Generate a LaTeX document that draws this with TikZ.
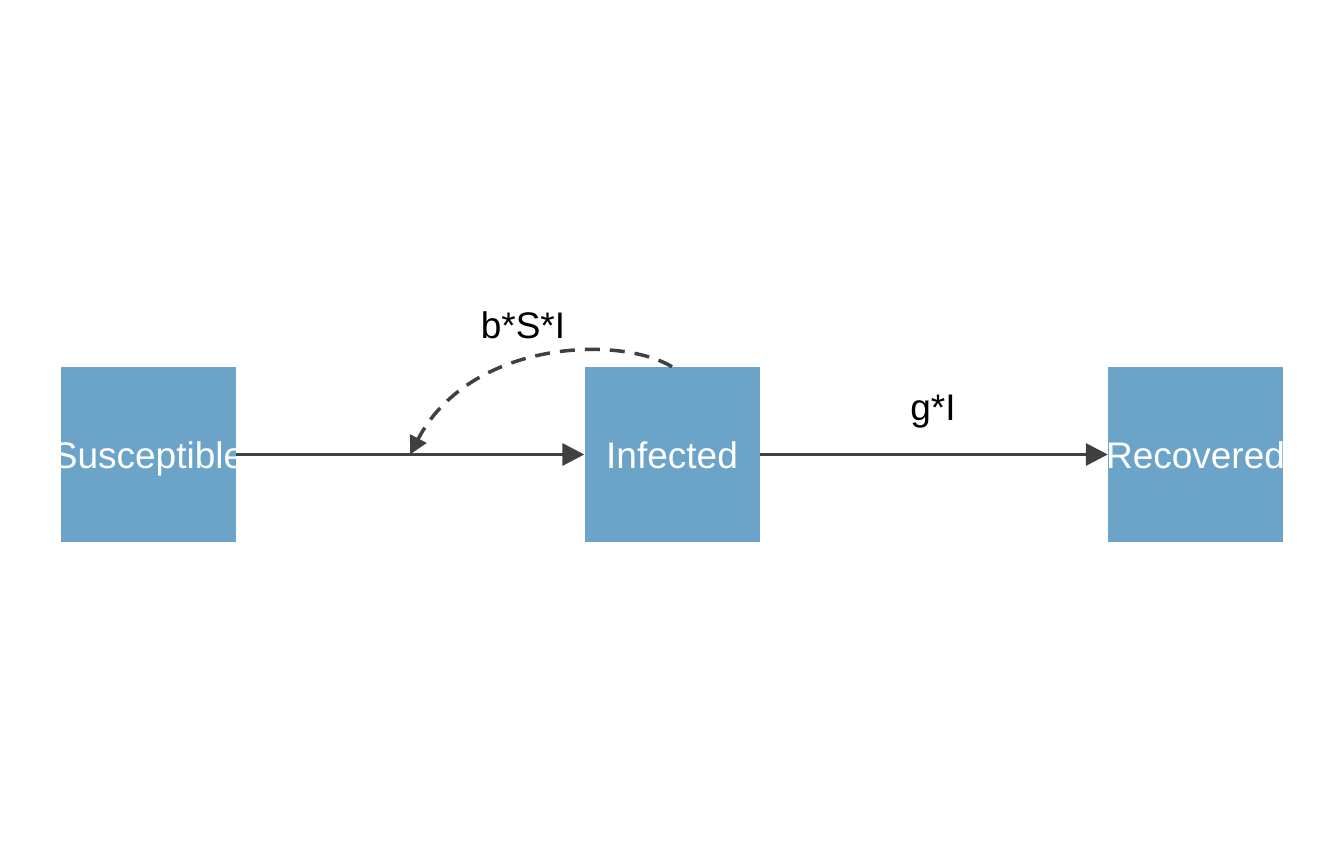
\documentclass[tikz,border=0pt]{standalone}
\usepackage{fontspec}
\setmainfont{Liberation Sans}
\usetikzlibrary{arrows.meta}
\definecolor{boxblue}{HTML}{6BA4C8}
\definecolor{edgegray}{HTML}{404040}
\newcommand{\fixw}[1]{\makebox[175pt][c]{#1}}
\begin{document}
\begin{tikzpicture}[x=1pt,y=-1pt,
  comp/.style={fill=boxblue,draw=none,minimum width=175pt,minimum height=175pt,inner sep=0pt,
    text=white,font=\fontsize{37}{40}\selectfont,text height=27pt,text depth=0pt},
  flow/.style={draw=edgegray,line width=3.5pt,-{Triangle[length=22pt,width=22pt]}},
  interact/.style={draw=edgegray,line width=3.5pt,dash pattern=on 15pt off 10pt,-{Triangle[length=18pt,width=18pt]}},
  lbl/.style={text=black,font=\fontsize{37}{40}\selectfont,inner sep=0pt}]
\useasboundingbox (0,0) rectangle (1344,865);
\node[comp] (S) at (148.5,454.5) {\fixw{Susceptible}};
\node[comp] (I) at (672,454.5) {\fixw{Infected}};
\node[comp] (R) at (1195.5,454.5) {\fixw{Recovered}};
\coordinate (m) at (410,454.5);
\draw[flow] (S.east) -- (I.west);
\draw[flow] (I.east) -- (R.west);
\draw[interact] (I.north) .. controls (620,335) and (470,340) .. (m);
\node[lbl] (l1) at (523,325) {b*S*I};
\node[lbl] (l2) at (933,412) {g*I};
\end{tikzpicture}
\end{document}
